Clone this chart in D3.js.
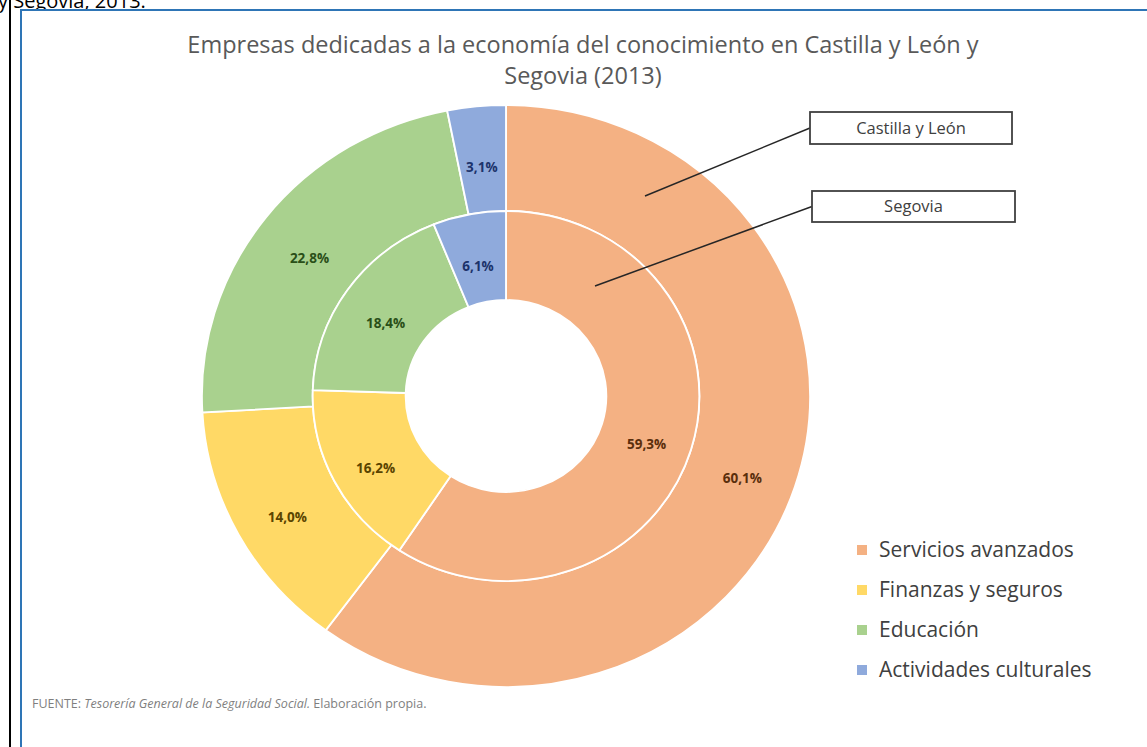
<!DOCTYPE html>
<html>
<head>
<meta charset="utf-8">
<script src="https://cdn.jsdelivr.net/npm/d3@7"></script>
<style>
  body { margin: 0; background: #fff; }
  svg { display: block; }
</style>
</head>
<body>
<script>
// Data
var categories = ["Servicios avanzados", "Finanzas y seguros", "Educación", "Actividades culturales"];
var castillaValues = [60.1, 14.0, 22.8, 3.1];   // outer ring
var segoviaValues = [59.3, 16.2, 18.4, 6.1];    // inner ring
var colors = ["#F4B183", "#FFD966", "#A9D18E", "#8FAADC"];
var labelColors = ["#5a2e0c", "#5a4400", "#2a4f18", "#1c336b"];
var ringNames = ["Castilla y León", "Segovia"];

var svgWidth = 1147;
var svgHeight = 747;

var svg = d3.select("body")
  .append("svg")
  .attr("width", svgWidth)
  .attr("height", svgHeight);

// caption cut by the top edge (as in the source page)
svg.append("text")
  .attr("x", -2)
  .attr("y", 8)
  .attr("font-family", "Open Sans, sans-serif")
  .attr("font-size", 20)
  .attr("fill", "#000")
  .text("y Segovia, 2013.");

// page border + blue frame
svg.append("line")
  .attr("x1", 10).attr("x2", 10)
  .attr("y1", 0).attr("y2", svgHeight)
  .attr("stroke", "#000").attr("stroke-width", 2);

svg.append("rect")
  .attr("x", 21).attr("y", 10)
  .attr("width", 1140).attr("height", 760)
  .attr("fill", "#fff")
  .attr("stroke", "#2E75B6").attr("stroke-width", 2);

// title
var title = svg.append("text")
  .attr("text-anchor", "middle")
  .attr("font-family", "Open Sans, sans-serif")
  .attr("font-size", 23.5)
  .attr("fill", "#595959");
title.append("tspan").attr("x", 583).attr("y", 53)
  .text("Empresas dedicadas a la economía del conocimiento en Castilla y León y");
title.append("tspan").attr("x", 583).attr("y", 84)
  .text("Segovia (2013)");

// donut
var cx = 506, cy = 396;
var chartGroup = svg.append("g")
  .attr("transform", `translate(${cx}, ${cy}) scale(1.045, 1)`);

var pie = d3.pie().sort(null).value(d => d);

var outerArc = d3.arc().innerRadius(185).outerRadius(291);
var innerArc = d3.arc().innerRadius(96).outerRadius(185);

function drawRing(values, arc) {
  var arcs = pie(values);
  chartGroup.append("g")
    .selectAll("path")
    .data(arcs)
    .enter()
    .append("path")
    .attr("d", arc)
    .attr("fill", (d, i) => colors[i])
    .attr("stroke", "#fff")
    .attr("stroke-width", 1.8);

  chartGroup.append("g")
    .selectAll("text")
    .data(arcs)
    .enter()
    .append("text")
    .attr("transform", d => {
      var c = arc.centroid(d);
      return `translate(${c[0]}, ${c[1] + 8}) scale(${1 / 1.045}, 1)`;
    })
    .attr("text-anchor", "middle")
    .attr("dy", "0.35em")
    .attr("font-family", "Open Sans, sans-serif")
    .attr("font-weight", "bold")
    .attr("font-size", 13.5)
    .attr("fill", (d, i) => labelColors[i])
    .text(d => d.data.toFixed(1).replace(".", ",") + "%");
}

drawRing(castillaValues, outerArc);
drawRing(segoviaValues, innerArc);

// callouts
var callouts = [
  { name: ringNames[0], from: [645, 196], box: [810, 112, 202, 32] },
  { name: ringNames[1], from: [595, 286], box: [812, 191, 203, 31] }
];

callouts.forEach(function(c) {
  svg.append("line")
    .attr("x1", c.from[0]).attr("y1", c.from[1])
    .attr("x2", c.box[0]).attr("y2", c.box[1] + c.box[3] / 2)
    .attr("stroke", "#262626").attr("stroke-width", 1.5);
  svg.append("rect")
    .attr("x", c.box[0]).attr("y", c.box[1])
    .attr("width", c.box[2]).attr("height", c.box[3])
    .attr("fill", "#fff")
    .attr("stroke", "#404040").attr("stroke-width", 1.8);
  svg.append("text")
    .attr("x", c.box[0] + c.box[2] / 2)
    .attr("y", c.box[1] + c.box[3] / 2)
    .attr("dy", "0.35em")
    .attr("text-anchor", "middle")
    .attr("font-family", "Open Sans, sans-serif")
    .attr("font-size", 16.5)
    .attr("fill", "#404040")
    .text(c.name);
});

// legend
var legend = svg.append("g")
  .attr("transform", "translate(857, 550)");

var legendRows = legend.selectAll("g")
  .data(categories)
  .enter()
  .append("g")
  .attr("transform", (d, i) => `translate(0, ${i * 40})`);

legendRows.append("rect")
  .attr("x", 0).attr("y", -5)
  .attr("width", 10).attr("height", 10)
  .attr("fill", (d, i) => colors[i]);

legendRows.append("text")
  .attr("x", 22)
  .attr("dy", "0.35em")
  .attr("font-family", "Open Sans, sans-serif")
  .attr("font-size", 21)
  .attr("fill", "#404040")
  .text(d => d);

// source note
var note = svg.append("text")
  .attr("x", 32)
  .attr("y", 708)
  .attr("font-family", "Open Sans, sans-serif")
  .attr("font-size", 12.5)
  .attr("fill", "#7f7f7f");
note.append("tspan").text("FUENTE: ");
note.append("tspan").attr("font-style", "italic").text("Tesorería General de la Seguridad Social.");
note.append("tspan").text(" Elaboración propia.");
</script>
</body>
</html>
